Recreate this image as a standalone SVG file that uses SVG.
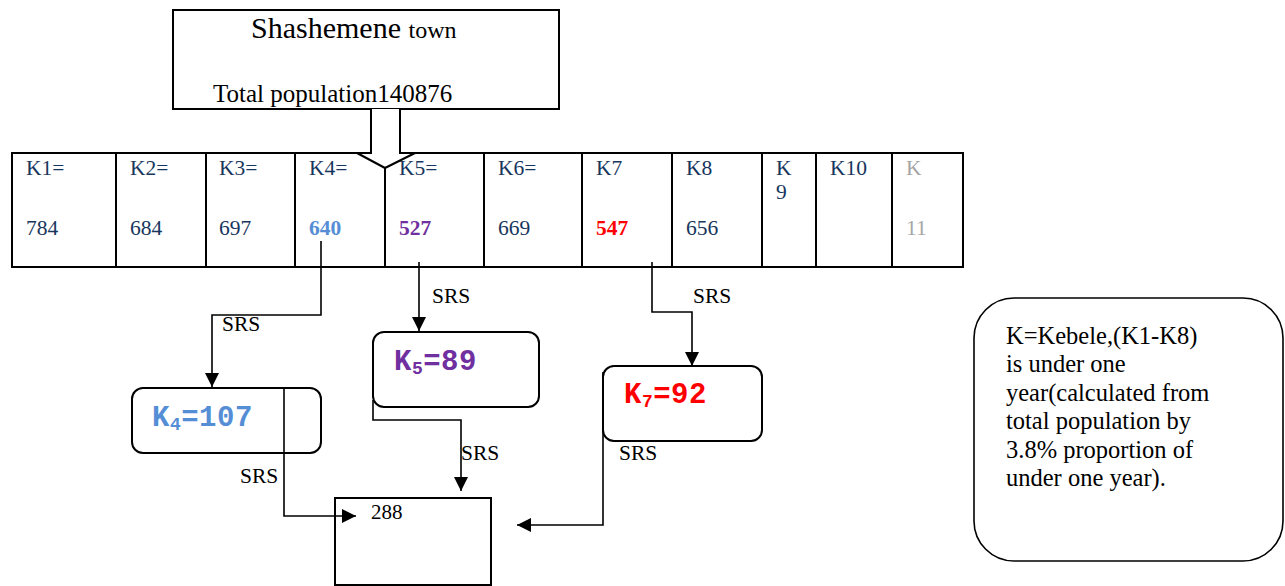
<svg xmlns="http://www.w3.org/2000/svg" width="1285" height="586" viewBox="0 0 1285 586">
<defs>
<style>
.t{font-family:"Liberation Serif","Times New Roman",serif;fill:#000}
.c{font-family:"Liberation Serif","Times New Roman",serif;font-size:21.5px;fill:#17365D}
.c.b{fill:#558ED5;font-weight:bold}
.c.p{fill:#7030A0;font-weight:bold}
.c.r{fill:#FF0000;font-weight:bold}
.c.g{fill:#A6A6A6}
.m{font-family:"Liberation Mono","Courier New",monospace;font-weight:bold;font-size:29px;letter-spacing:0.5px}
.box{fill:#fff;stroke:#000;stroke-width:2}
.ln{fill:none;stroke:#000;stroke-width:1.6}
</style>
<marker id="ah" markerUnits="userSpaceOnUse" markerWidth="15" markerHeight="15" refX="14" refY="7" orient="auto">
<path d="M0,0 L14,7 L0,14 Z" fill="#000"/>
</marker>
</defs>
<rect width="1285" height="586" fill="#fff"/>

<g id="town">
<rect class="box" x="173" y="10" width="386" height="99"/>
<text class="t" x="251" y="38" font-size="30">Shashemene <tspan font-size="24">town</tspan></text>
<text class="t" x="213" y="102" font-size="25">Total population140876</text>
</g>

<g id="table">
<rect class="box" x="12" y="153" width="951" height="114"/>
<g stroke="#000" stroke-width="2">
<line x1="116" y1="153" x2="116" y2="267"/>
<line x1="206" y1="153" x2="206" y2="267"/>
<line x1="295" y1="153" x2="295" y2="267"/>
<line x1="385" y1="153" x2="385" y2="267"/>
<line x1="484" y1="153" x2="484" y2="267"/>
<line x1="582" y1="153" x2="582" y2="267"/>
<line x1="672" y1="153" x2="672" y2="267"/>
<line x1="762" y1="153" x2="762" y2="267"/>
<line x1="816" y1="153" x2="816" y2="267"/>
<line x1="892" y1="153" x2="892" y2="267"/>
</g>
<text class="c" x="26" y="175">K1=</text><text class="c" x="26" y="235">784</text>
<text class="c" x="130" y="175">K2=</text><text class="c" x="130" y="235">684</text>
<text class="c" x="219" y="175">K3=</text><text class="c" x="219" y="235">697</text>
<text class="c" x="309" y="175">K4=</text><text class="c b" x="309" y="235">640</text>
<text class="c" x="399" y="175">K5=</text><text class="c p" x="399" y="235">527</text>
<text class="c" x="498" y="175">K6=</text><text class="c" x="498" y="235">669</text>
<text class="c" x="596" y="175">K7</text><text class="c r" x="596" y="235">547</text>
<text class="c" x="686" y="175">K8</text><text class="c" x="686" y="235">656</text>
<text class="c" x="776" y="175">K</text><text class="c" x="776" y="199">9</text>
<text class="c" x="830" y="175">K10</text>
<text class="c g" x="906" y="175">K</text><text class="c g" x="906" y="235">11</text>
</g>

<g id="k4box">
<rect class="box" x="132" y="388" width="189" height="65" rx="11"/>
<text class="m" x="152" y="426" style="fill:#558ED5">K<tspan font-size="18" dy="4">4</tspan><tspan dy="-4">=107</tspan></text>
</g>

<g id="k5box">
<rect class="box" x="373" y="332" width="166" height="75" rx="11"/>
<text class="m" x="394" y="370" style="fill:#7030A0">K<tspan font-size="18" dy="4">5</tspan><tspan dy="-4">=89</tspan></text>
</g>

<g id="k7box">
<rect class="box" x="603" y="366" width="159" height="75" rx="11"/>
<text class="m" x="624" y="403" style="fill:#FF0000">K<tspan font-size="18" dy="4">7</tspan><tspan dy="-4">=92</tspan></text>
</g>

<g id="total">
<rect class="box" x="335" y="498" width="156" height="87"/>
<text class="t" x="371" y="519" font-size="21">288</text>
</g>

<g id="note">
<rect x="974" y="298" width="309" height="263" rx="40" fill="#fff" stroke="#000" stroke-width="1.6"/>
<text class="t" font-size="24.5">
<tspan x="1006" y="344">K=Kebele,(K1-K8)</tspan>
<tspan x="1006" y="372">is under one</tspan>
<tspan x="1006" y="401">year(calculated from</tspan>
<tspan x="1006" y="429">total population by</tspan>
<tspan x="1006" y="458">3.8% proportion of</tspan>
<tspan x="1006" y="486">under one year).</tspan>
</text>
</g>

<g id="connectors">
<path d="M371,109 V153 H357 L385,168 L415,153 H400 V109" fill="#fff" stroke="#000" stroke-width="2"/>
<path class="ln" d="M321,241 V315 H212 V387" marker-end="url(#ah)"/>
<path class="ln" d="M419,262 V331" marker-end="url(#ah)"/>
<path class="ln" d="M652,262 V312 H692 V366" marker-end="url(#ah)"/>
<path class="ln" d="M284,388 V516 H356" marker-end="url(#ah)"/>
<path class="ln" d="M373,400 V420 H461 V491" marker-end="url(#ah)"/>
<path class="ln" d="M603,372 V525 H517" marker-end="url(#ah)"/>
<g class="t" font-size="21.5">
<text x="222" y="331">SRS</text>
<text x="432" y="303">SRS</text>
<text x="693" y="303">SRS</text>
<text x="240" y="483">SRS</text>
<text x="461" y="460">SRS</text>
<text x="619" y="460">SRS</text>
</g>
</g>
</svg>
